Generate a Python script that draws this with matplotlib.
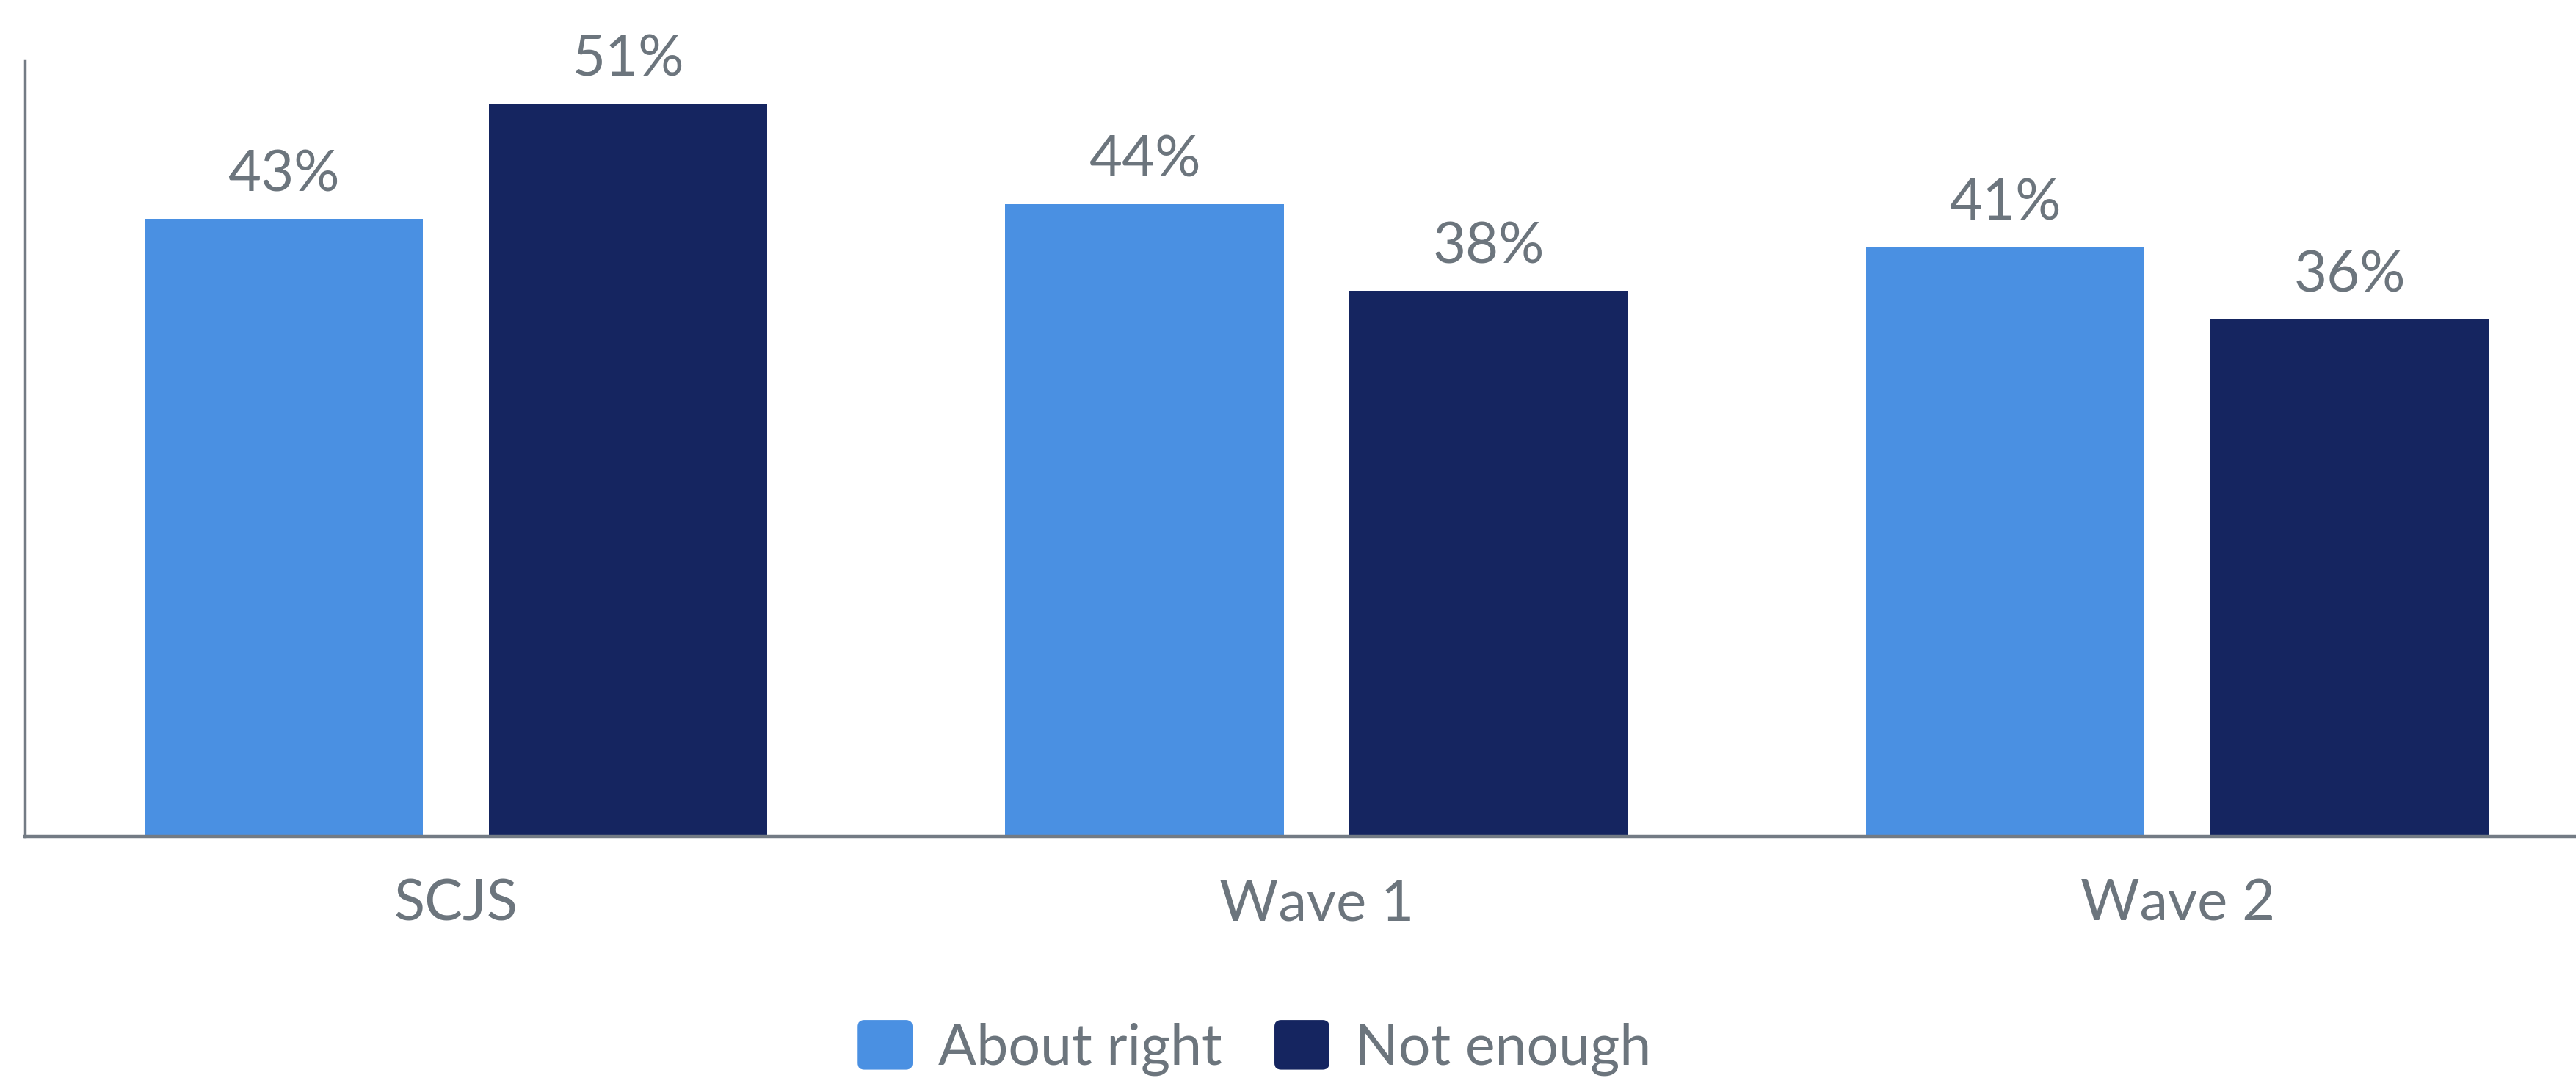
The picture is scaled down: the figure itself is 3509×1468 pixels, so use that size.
import numpy as np
import matplotlib
matplotlib.use("Agg")
from matplotlib import pyplot as plt
from matplotlib.patches import FancyBboxPatch, Patch
from matplotlib.legend_handler import HandlerPatch

categories = ["SCJS", "Wave 1", "Wave 2"]
series_names = ["About right", "Not enough"]
about_right = [43, 44, 41]
not_enough = [51, 38, 36]

colors = ["#4a90e2", "#152560"]
text_col = "#6c757d"
axis_col = "#737b84"

plt.rcParams['font.family'] = ['Lato', 'DejaVu Sans']


def rounded_patch(legend, orig_handle, xdescent, ydescent, width, height, fontsize):
    return FancyBboxPatch((-xdescent, -ydescent), width, height,
                          boxstyle="round,pad=0,rounding_size=%f" % (width * 0.12),
                          facecolor=orig_handle.get_facecolor(), edgecolor='none')


fig = plt.figure(figsize=(35.09, 14.68), dpi=100)
ax = fig.add_axes([0.0096, 0.224, 0.9904, 0.7196])

x = np.arange(len(categories))
w = 0.3235
off = 0.2
b1 = ax.bar(x - off, about_right, w, color=colors[0], label=series_names[0])
b2 = ax.bar(x + off, not_enough, w, color=colors[1], label=series_names[1])

for bars in (b1, b2):
    ax.bar_label(bars, labels=["%d%%" % v for v in bars.datavalues],
                 padding=17, fontsize=56, color=text_col)

ax.set_xlim(-0.501, 2.463)
ax.set_ylim(0, 54.0)
ax.set_xticks(x)
ax.set_xticklabels(categories, fontsize=56, color=text_col)
ax.tick_params(axis='x', length=0, pad=41)
ax.set_yticks([])
for s in ['top', 'right']:
    ax.spines[s].set_visible(False)
ax.spines['left'].set_color(axis_col)
ax.spines['left'].set_linewidth(2.5)
ax.spines['bottom'].set_color(axis_col)
ax.spines['bottom'].set_linewidth(3.2)

handles = [Patch(facecolor=c) for c in colors]
leg = fig.legend(handles, series_names, loc='center', bbox_to_anchor=(0.487, 0.028),
                 ncol=2, frameon=False, fontsize=55.5, labelcolor=text_col,
                 handlelength=0.97, handleheight=0.97, handletextpad=0.46,
                 columnspacing=0.92,
                 handler_map={Patch: HandlerPatch(patch_func=rounded_patch)})

fig.savefig("out.png", dpi=100)
